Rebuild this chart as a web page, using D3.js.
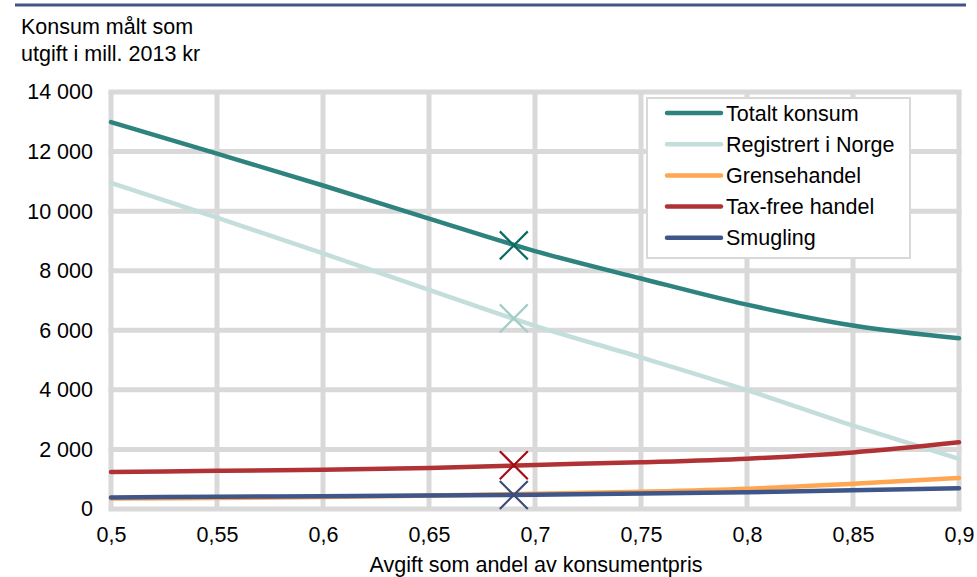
<!DOCTYPE html>
<html>
<head>
<meta charset="utf-8">
<script src="https://cdn.jsdelivr.net/npm/d3@7"></script>
<style>
  body { margin: 0; background: #fff; }
  svg text { font-family: "Liberation Sans", Arial, sans-serif; fill: #000; }
</style>
</head>
<body>
<svg id="chart" width="977" height="577"></svg>
<script>
// Avgift som andel av konsumentpris
const shares = [0.5, 0.55, 0.6, 0.65, 0.7, 0.75, 0.8, 0.85, 0.9];

// Konsum, mill. 2013 kr
const totalt      = [12990, 11930, 10860, 9750, 8660, 7740, 6860, 6160, 5730];
const registrert  = [10950, 9780, 8580, 7360, 6150, 5090, 3990, 2800, 1680];
const grensehandel = [350, 370, 400, 450, 510, 580, 680, 850, 1040];
const taxfree     = [1240, 1280, 1320, 1380, 1480, 1570, 1690, 1900, 2240];
const smugling    = [390, 410, 430, 450, 480, 520, 560, 630, 700];

// Dagens avgiftsnivå (kryss)
const markShare = 0.69;
const markValues = [8850, 6400, 500, 1470, 470];

const seriesNames = ["Totalt konsum", "Registrert i Norge", "Grensehandel", "Tax-free handel", "Smugling"];
const seriesValues = [totalt, registrert, grensehandel, taxfree, smugling];
const lineColors = ["#2e837e", "#c3dedb", "#ffa653", "#b03234", "#3e5689"];
const markColors = ["#0c6b62", "#a5cdc8", "#ffa653", "#a30d12", "#3a4d78"];

const xTicks = [0.5, 0.55, 0.6, 0.65, 0.7, 0.75, 0.8, 0.85, 0.9];
const yTicks = [0, 2000, 4000, 6000, 8000, 10000, 12000, 14000];

const FS = 21.5;
const svg = d3.select("#chart");
const x = d3.scaleLinear().domain([0.5, 0.9]).range([111, 959]);
const y = d3.scaleLinear().domain([0, 14000]).range([509, 92]);

const fmtY = v => d3.format(",")(v).replace(/,/g, "\u00a0");
const fmtX = v => String(v).replace(".", ",");

// top rule
svg.append("line").attr("x1", 15).attr("x2", 966).attr("y1", 5).attr("y2", 5)
  .attr("stroke", "#3e5689").attr("stroke-width", 3);

// title
svg.append("text").attr("x", 21).attr("y", 34).attr("font-size", FS).text("Konsum målt som");
svg.append("text").attr("x", 21).attr("y", 61).attr("font-size", FS).text("utgift i mill. 2013 kr");

// grid
const grid = svg.append("g");
grid.selectAll(".gx").data(xTicks).join("line")
  .attr("x1", d => x(d)).attr("x2", d => x(d))
  .attr("y1", y(14000)).attr("y2", y(0))
  .attr("stroke", "#d9d9d9").attr("stroke-width", 5);
grid.selectAll(".gy").data(yTicks).join("line")
  .attr("x1", x(0.5) - 2.5).attr("x2", x(0.9) + 2.5)
  .attr("y1", d => y(d)).attr("y2", d => y(d))
  .attr("stroke", "#d9d9d9").attr("stroke-width", 5);

// axes labels
const yAxis = d3.axisLeft(y).tickValues(yTicks).tickFormat(fmtY).tickSize(0).tickPadding(18);
const gy = svg.append("g").attr("transform", `translate(${x(0.5)},0)`).call(yAxis);
gy.select(".domain").remove();
gy.selectAll("text").attr("font-size", FS).attr("fill", "#000")
  .attr("font-family", "'Liberation Sans', Arial, sans-serif");

const xAxis = d3.axisBottom(x).tickValues(xTicks).tickFormat(fmtX).tickSize(0).tickPadding(18);
const gx = svg.append("g").attr("transform", `translate(0,${y(0)})`).call(xAxis);
gx.select(".domain").remove();
gx.selectAll("text").attr("font-size", FS).attr("fill", "#000")
  .attr("font-family", "'Liberation Sans', Arial, sans-serif");

svg.append("text").attr("x", 536).attr("y", 572).attr("text-anchor", "middle")
  .attr("font-size", FS).text("Avgift som andel av konsumentpris");

// lines
const line = d3.line().x((d, i) => x(shares[i])).y(d => y(d)).curve(d3.curveMonotoneX);
const drawOrder = [1, 0, 2, 4, 3];
drawOrder.forEach(k => {
  svg.append("path").datum(seriesValues[k]).attr("d", line)
    .attr("fill", "none").attr("stroke", lineColors[k]).attr("stroke-width", 4.5)
    .attr("stroke-linecap", "round");
});

// markers
const s = 14;
[0, 1, 3, 4].forEach(k => {
  const cx = x(markShare), cy = y(markValues[k]);
  svg.append("path")
    .attr("d", `M${cx - s},${cy - s}L${cx + s},${cy + s}M${cx - s},${cy + s}L${cx + s},${cy - s}`)
    .attr("stroke", markColors[k]).attr("stroke-width", 2.2).attr("fill", "none");
});

// legend
const lg = svg.append("g");
lg.append("rect").attr("x", 647).attr("y", 98).attr("width", 263).attr("height", 160)
  .attr("fill", "#fff").attr("stroke", "#d9d9d9").attr("stroke-width", 2);
seriesNames.forEach((name, i) => {
  const ly = 113 + i * 31.2;
  lg.append("line").attr("x1", 667).attr("x2", 721).attr("y1", ly).attr("y2", ly)
    .attr("stroke", lineColors[i]).attr("stroke-width", 4.5).attr("stroke-linecap", "round");
  lg.append("text").attr("x", 726).attr("y", ly + 7.5).attr("font-size", FS).text(name);
});
</script>
</body>
</html>
